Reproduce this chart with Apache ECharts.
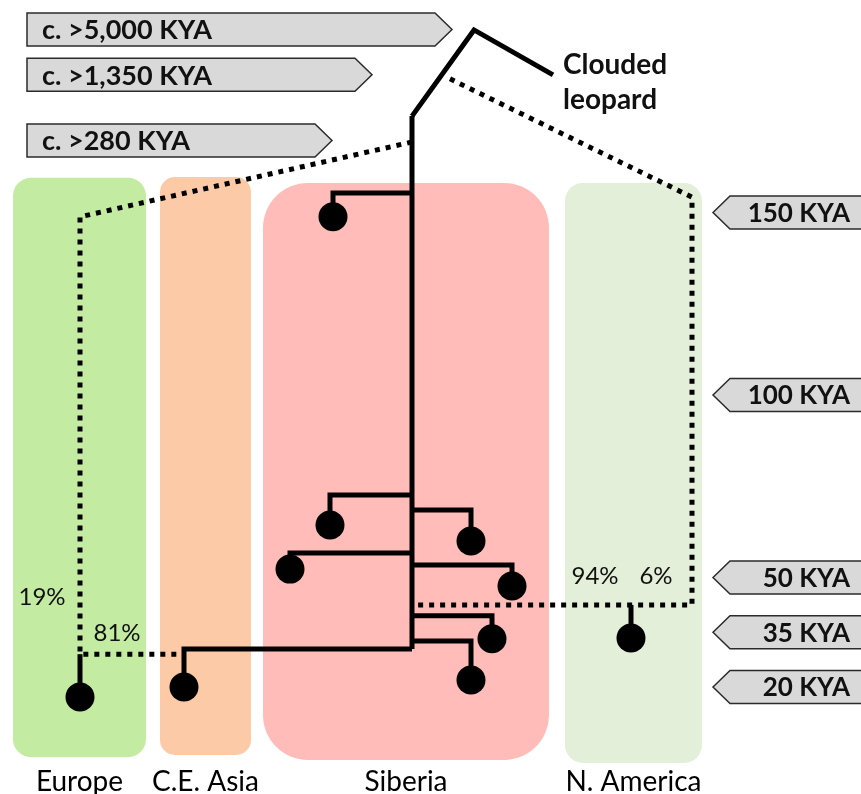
<!DOCTYPE html>
<html>
<head>
<meta charset="utf-8">
<script src="https://cdn.jsdelivr.net/npm/echarts@6/dist/echarts.min.js"></script>
<style>
  html, body { margin: 0; padding: 0; background: #ffffff; }
  #chart { width: 861px; height: 794px; }
</style>
</head>
<body>
<div id="chart"></div>
<script>
// ---- Data -------------------------------------------------------------
// Horizontal axis: schematic lane position; vertical axis: time in KYA.

// Sampling regions: lane span and time span (KYA)
const regionNames = ['Europe', 'C.E. Asia', 'Siberia', 'N. America'];
const regionLane = [[13, 146], [160, 251], [263, 549], [565, 702]];
const regionTime = [[159.5, 0.8], [159.7, 1.4], [158.1, 0.0], [158.1, -0.8]];

// Solid lineages: [lane, KYA] vertices
const solidLineages = [
  [[412, 176.4], [474, 200.0], [553, 187.7]],   // split from clouded leopard
  [[412, 176.4], [412, 30.4]],                   // main Siberian stem
  [[412, 155.3], [333, 155.3], [333, 148.8]],
  [[412, 72.6], [330, 72.6], [330, 64.4]],
  [[412, 68.5], [471, 68.5], [471, 60.0]],
  [[412, 56.7], [290, 56.7], [290, 52.3]],
  [[412, 53.4], [512, 53.4], [512, 47.7]],
  [[412, 39.5], [492, 39.5], [492, 33.2]],
  [[412, 32.6], [471, 32.6], [471, 21.9]],
  [[412, 30.4], [184, 30.4], [184, 20.0]],       // C.E. Asia
  [[80, 29.0], [80, 17.3]],                      // Europe
  [[631, 42.5], [631, 33.4]]                     // N. America
];

// Admixture / ghost lineages (dotted)
const ghostLineages = [
  [[412, 169.3], [80, 148.8], [80, 29.0], [184, 29.0]],
  [[450, 186.6], [692, 154.2], [692, 42.5], [418, 42.5]]
];

// Sampled genomes
const samples = [
  [333, 148.8], [330, 64.4], [471, 60.0], [290, 52.3], [512, 47.7],
  [492, 33.2], [471, 21.9], [184, 20.0], [80, 17.3], [631, 33.4]
];

// Admixture proportions: [lane, KYA, text]
const admixLane = [42, 117, 595, 656];
const admixTime = [44.7, 34.8, 50.4, 50.4];
const admixText = ['19%', '81%', '94%', '6%'];

// Time scale markers
const timeTicks = [150, 100, 50, 35, 20];
const timeTickLabels = ['150 KYA', '100 KYA', '50 KYA', '35 KYA', '20 KYA'];

// Deep divergence markers
const deepTimes = [200.1, 187.7, 169.7];
const deepLabels = ['c. >5,000 KYA', 'c. >1,350 KYA', 'c. >280 KYA'];

// Outgroup
const outgroupTip = [553, 187.7];
const outgroupName = 'Clouded\nleopard';

// ---- Styling --------------------------------------------------------------
const regionColors = ['#c3eba1', '#fccaa7', '#ffbcb8', '#e4efd9'];
const regionRadius = [18, 15, 45, 18];
const deepArrowEnd = [435, 355, 315];
const FONT = 'Lato, "Open Sans", sans-serif';
const REGION_LABEL_T = -6.0;

const chart = echarts.init(document.getElementById('chart'), null, { renderer: 'canvas' });

const lineSeries = [];
solidLineages.forEach(function (path) {
  lineSeries.push({
    type: 'line', data: path, symbol: 'none', silent: true, z: 3,
    lineStyle: { color: '#000', width: 5, cap: 'butt', join: 'miter', opacity: 1 }
  });
});
ghostLineages.forEach(function (path) {
  lineSeries.push({
    type: 'line', data: path, symbol: 'none', silent: true, z: 3,
    lineStyle: { color: '#000', width: 5, type: [5, 6], cap: 'butt', join: 'miter', opacity: 1 }
  });
});

const option = {
  animation: false,
  grid: { left: 0, right: 0, top: 0, bottom: 0 },
  xAxis: { type: 'value', min: 0, max: 861, show: false },
  yAxis: { type: 'value', min: -9.3, max: 208.2, show: false },
  series: [
    {
      // region panels with names below
      type: 'custom', z: 1, silent: true,
      data: regionNames.map(function (n, i) {
        return [regionLane[i][0], regionTime[i][0], regionLane[i][1], regionTime[i][1], i];
      }),
      renderItem: function (params, api) {
        const p0 = api.coord([api.value(0), api.value(1)]);
        const p1 = api.coord([api.value(2), api.value(3)]);
        const i = api.value(4);
        const ly = api.coord([0, REGION_LABEL_T])[1];
        return {
          type: 'group', children: [
            { type: 'rect', shape: { x: p0[0], y: p0[1], width: p1[0] - p0[0], height: p1[1] - p0[1], r: regionRadius[i] },
              style: { fill: regionColors[i] } },
            { type: 'text', style: { text: regionNames[i], x: (p0[0] + p1[0]) / 2, y: ly,
              align: 'center', verticalAlign: 'middle', font: '28px ' + FONT, fill: '#000' } }
          ]
        };
      }
    }
  ].concat(lineSeries).concat([
    {
      type: 'scatter', data: samples, symbol: 'circle', symbolSize: 29, z: 4, silent: true,
      itemStyle: { color: '#000', opacity: 1 }
    },
    {
      // admixture percentages
      type: 'custom', z: 5, silent: true,
      data: admixText.map(function (t, i) { return [admixLane[i], admixTime[i], i]; }),
      renderItem: function (params, api) {
        const p = api.coord([api.value(0), api.value(1)]);
        return { type: 'text', style: { text: admixText[api.value(2)], x: p[0], y: p[1],
          align: 'center', verticalAlign: 'middle', font: '24px ' + FONT, fill: '#111' } };
      }
    },
    {
      // outgroup name
      type: 'custom', z: 5, silent: true,
      data: [outgroupTip],
      renderItem: function (params, api) {
        const p = api.coord([api.value(0), api.value(1)]);
        return { type: 'text', style: { text: outgroupName, x: p[0] + 10, y: p[1] + 8,
          align: 'left', verticalAlign: 'middle', lineHeight: 35, font: 'bold 28px ' + FONT, fill: '#111' } };
      }
    },
    {
      // time scale arrows on the right
      type: 'custom', z: 5, silent: true,
      data: timeTicks.map(function (t, i) { return [t, i]; }),
      renderItem: function (params, api) {
        const y = api.coord([0, api.value(0)])[1];
        const i = api.value(1);
        const h = 16.5, tip = 713, notch = 730, right = 875;
        return {
          type: 'group', children: [
            { type: 'polygon', shape: { points: [[tip, y], [notch, y - h], [right, y - h], [right, y + h], [notch, y + h]] },
              style: { fill: '#d9d9d9', stroke: '#2b2b2b', lineWidth: 1.5 } },
            { type: 'text', style: { text: timeTickLabels[i], x: 850, y: y + 1, align: 'right', verticalAlign: 'middle',
              font: 'bold 26px ' + FONT, fill: '#111' } }
          ]
        };
      }
    },
    {
      // deep divergence arrows on the left
      type: 'custom', z: 5, silent: true,
      data: deepTimes.map(function (t, i) { return [t, i]; }),
      renderItem: function (params, api) {
        const y = api.coord([0, api.value(0)])[1];
        const i = api.value(1);
        const h = 16.5, left = 27, end = deepArrowEnd[i], tip = end + 17;
        return {
          type: 'group', children: [
            { type: 'polygon', shape: { points: [[left, y - h], [end, y - h], [tip, y], [end, y + h], [left, y + h]] },
              style: { fill: '#d9d9d9', stroke: '#2b2b2b', lineWidth: 1.5 } },
            { type: 'text', style: { text: deepLabels[i], x: 42, y: y + 1, align: 'left', verticalAlign: 'middle',
              font: 'bold 27px ' + FONT, fill: '#111' } }
          ]
        };
      }
    }
  ])
};

chart.setOption(option);
</script>
</body>
</html>
